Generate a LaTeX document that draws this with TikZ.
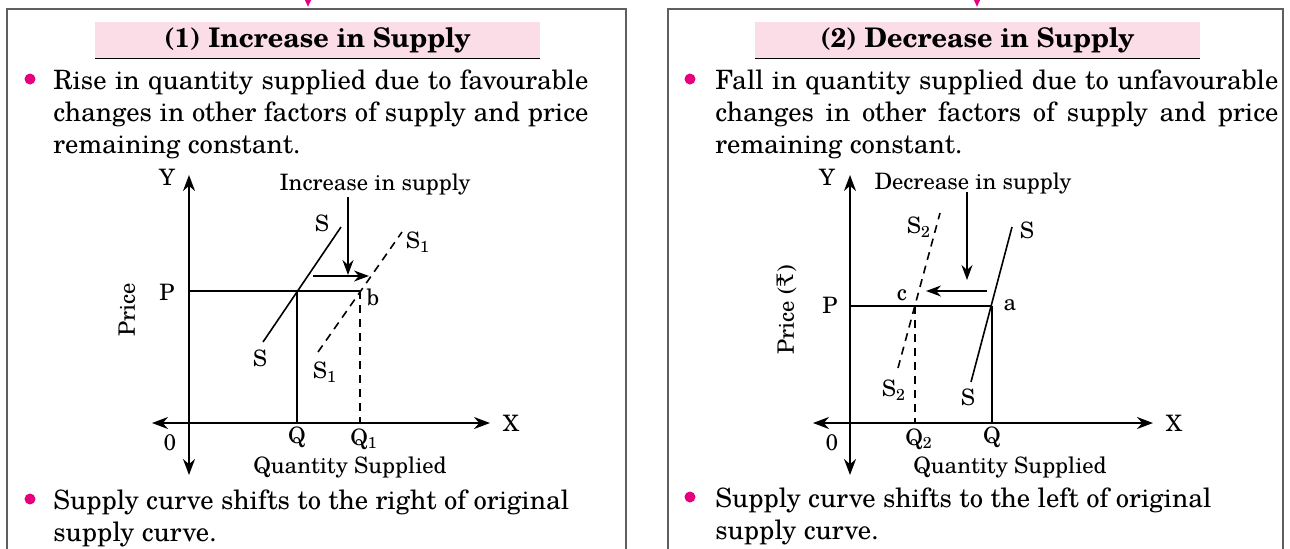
\documentclass[tikz,border=0pt]{standalone}
\usepackage{fontspec}
\setmainfont{TeX Gyre Schola}
\newfontfamily\rupeefont{DejaVu Serif}
\definecolor{bulletpink}{RGB}{230, 0, 126}
\definecolor{headpink}{RGB}{251, 221, 232}
\definecolor{framegray}{RGB}{95, 95, 95}
\usetikzlibrary{arrows.meta, positioning}

\begin{document}
\begin{tikzpicture}[x=0.5pt, y=-0.5pt,
    panel/.style={draw=framegray, line width=1pt},
    headbox/.style={fill=headpink, minimum width=222.5pt, minimum height=18pt, inner sep=0pt,
                    text height=9.5pt, text depth=2.5pt,
                    font=\fontsize{13.5}{16}\selectfont\bfseries},
    dot/.style={circle, fill=bulletpink, inner sep=0pt, minimum size=5.5pt},
    para/.style={anchor=north west, inner sep=0pt, font=\fontsize{13.3}{16}\selectfont},
    lbl/.style={inner sep=0pt, font=\fontsize{11.3}{13}\selectfont},
    axis/.style={line width=1pt, {Stealth[length=8pt, width=6pt]}-{Stealth[length=8pt, width=6pt]}},
    curve/.style={line width=0.8pt},
    dashcurve/.style={line width=0.8pt, dash pattern=on 4pt off 3pt},
    shiftarrow/.style={line width=0.8pt, -{Stealth[length=7.5pt, width=5.5pt]}}]
  \useasboundingbox (0,0) rectangle (1290,548);

  % panels
  \coordinate (fl1) at (7,560);   \coordinate (fr1) at (626,560);
  \coordinate (fl2) at (668,560); \coordinate (fr2) at (1283,560);
  \draw[panel] (fl1) |- (fr1 |- 0,9) -- (fr1);
  \draw[panel] (fl2) |- (fr2 |- 0,9) -- (fr2);
  \coordinate (in1) at (308,-4);  \coordinate (tip1) at (308,7);
  \coordinate (in2) at (977,-4);  \coordinate (tip2) at (977,7);
  \draw[bulletpink, line width=1.2pt, -{Triangle[length=6pt, width=5pt]}] (in1) -- (tip1);
  \draw[bulletpink, line width=1.2pt, -{Triangle[length=6pt, width=5pt]}] (in2) -- (tip2);

  % headings
  \node[headbox] (head1) at (317.5,40) {(1) Increase in Supply};
  \node[headbox] (head2) at (977.5,40) {(2) Decrease in Supply};
  \draw[line width=0.8pt] (head1.south west) -- (head1.south east);
  \draw[line width=0.8pt] (head2.south west) -- (head2.south east);

  % text
  \node[dot] (d1) at (30,79) {};
  \node[para, text width=267.5pt, align=justify] (t1) at (53,69)
    {Rise in quantity supplied due to favourable\linebreak
     changes in other factors of supply and price\linebreak
     remaining constant.};
  \node[dot] (d2) at (690,79) {};
  \node[para, text width=281.5pt, align=justify] (t2) at (715,69)
    {Fall in quantity supplied due to unfavourable\linebreak
     changes in other factors of supply and price\linebreak
     remaining constant.};
  \node[dot] (d3) at (30,499) {};
  \node[para, align=left] (t3) at (53,489)
    {Supply curve shifts to the right of original\\ supply curve.};
  \node[dot] (d4) at (690,497) {};
  \node[para, align=left] (t4) at (715,487)
    {Supply curve shifts to the left of original\\ supply curve.};

  % graph 1: increase
  \coordinate (yt1) at (189,175); \coordinate (yb1) at (189,475);
  \coordinate (xl1) at (152,423); \coordinate (xr1) at (490,423);
  \coordinate (p1) at (189,291);  \coordinate (e1) at (297,291);
  \coordinate (b1) at (360,291);  \coordinate (q1) at (297,423);
  \coordinate (qq1) at (360,423);
  \coordinate (sa1) at (263,342); \coordinate (sb1) at (341,227);
  \coordinate (ta1) at (318,352); \coordinate (tb1) at (402,232);
  \coordinate (va1) at (348,197); \coordinate (vb1) at (348,275);
  \coordinate (ha1) at (313,276); \coordinate (hb1) at (369,276);
  \draw[axis] (yb1) -- (yt1);
  \draw[axis] (xl1) -- (xr1);
  \draw[curve] (p1) -- (b1);
  \draw[curve] (e1) -- (q1);
  \draw[dashcurve] (b1) -- (qq1);
  \draw[curve] (sa1) -- (sb1);
  \draw[dashcurve] (ta1) -- (tb1);
  \draw[shiftarrow] (va1) -- (vb1);
  \draw[shiftarrow] (ha1) -- (hb1);
  \node[lbl] (y1) at (167,177) {Y};
  \node[lbl] (x1) at (511,423) {X};
  \node[lbl] (o1) at (170,443) {0};
  \node[lbl] (lp1) at (167,292) {P};
  \node[lbl] (lq1) at (297,437) {Q};
  \node[lbl] (lqq1) at (364,439) {Q\textsubscript{1}};
  \node[lbl] (ls1) at (322,223) {S};
  \node[lbl] (ls1b) at (260,358) {S};
  \node[lbl] (lt1) at (418,242) {S\textsubscript{1}};
  \node[lbl] (lt1b) at (325,372) {S\textsubscript{1}};
  \node[lbl] (lb1) at (373,297) {b};
  \node[lbl] (inc) at (375,184) {Increase in supply};
  \node[lbl, rotate=90] (pr1) at (127,310) {Price};
  \node[lbl] (qs1) at (350,467) {Quantity Supplied};

  % graph 2: decrease
  \coordinate (yt2) at (850,175); \coordinate (yb2) at (850,475);
  \coordinate (xl2) at (813,423); \coordinate (xr2) at (1153,423);
  \coordinate (p2) at (850,306);  \coordinate (a2) at (992,306);
  \coordinate (c2) at (915,306);  \coordinate (q2) at (992,423);
  \coordinate (qq2) at (915,423);
  \coordinate (sa2) at (971,382); \coordinate (sb2) at (1012,227);
  \coordinate (ta2) at (898,368); \coordinate (tb2) at (940,213);
  \coordinate (va2) at (967,192); \coordinate (vb2) at (967,280);
  \coordinate (ha2) at (987,291); \coordinate (hb2) at (926,291);
  \draw[axis] (yb2) -- (yt2);
  \draw[axis] (xl2) -- (xr2);
  \draw[curve] (p2) -- (a2);
  \draw[curve] (a2) -- (q2);
  \draw[dashcurve] (c2) -- (qq2);
  \draw[curve] (sa2) -- (sb2);
  \draw[dashcurve] (ta2) -- (tb2);
  \draw[shiftarrow] (va2) -- (vb2);
  \draw[shiftarrow] (ha2) -- (hb2);
  \node[lbl] (y2) at (827,177) {Y};
  \node[lbl] (x2) at (1174,423) {X};
  \node[lbl] (o2) at (832,443) {0};
  \node[lbl] (lp2) at (830,305) {P};
  \node[lbl] (lq2) at (992,437) {Q};
  \node[lbl] (lqq2) at (919,439) {Q\textsubscript{2}};
  \node[lbl] (ls2) at (1027,230) {S};
  \node[lbl] (ls2b) at (968,397) {S};
  \node[lbl] (lt2) at (919,227) {S\textsubscript{2}};
  \node[lbl] (lt2b) at (894,390) {S\textsubscript{2}};
  \node[lbl] (la2) at (1010,305) {a};
  \node[lbl] (lc2) at (902,295) {c};
  \node[lbl] (dec) at (973,183) {Decrease in supply};
  \node[lbl, rotate=90] (pr2) at (787,310) {Price ({\rupeefont ₹})};
  \node[lbl] (qs2) at (1010,467) {Quantity Supplied};
\end{tikzpicture}
\end{document}
